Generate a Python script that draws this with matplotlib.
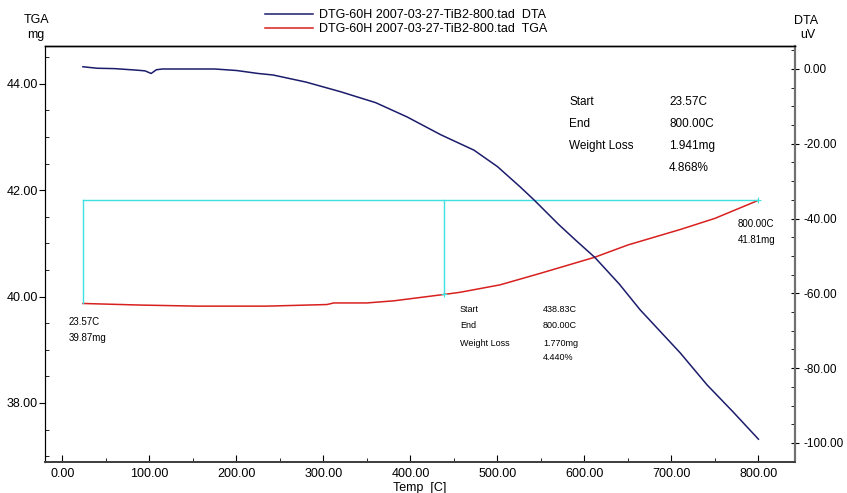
import matplotlib.pyplot as plt
from matplotlib.ticker import MultipleLocator, FormatStrFormatter

plt.rcParams['font.family'] = ['Liberation Sans', 'DejaVu Sans']

# DTA trace (uV) read against temperature (C)
dta_temp = [23.6, 40, 60, 85, 95, 102, 108, 115, 175, 200, 225, 242, 280, 320,
            360, 396, 435, 473, 500, 526, 542, 570, 590, 612, 640, 664, 710, 741, 770, 800]
dta_uv = [0.6, 0.2, 0.1, -0.3, -0.5, -1.2, -0.2, 0.0, 0.0, -0.4, -1.2, -1.6, -3.5, -6.1,
          -9.0, -12.8, -17.6, -21.7, -26.1, -31.5, -35.0, -41.5, -45.8, -50.4, -57.5, -64.4,
          -75.9, -84.5, -91.5, -99.0]

# TGA trace (mg)
tga_temp = [23.6, 90, 155, 235, 304, 312, 350, 381, 438.83, 457, 503, 550, 612, 650, 710, 750, 800]
tga_mg = [39.87, 39.84, 39.82, 39.82, 39.85, 39.88, 39.88, 39.92, 40.04, 40.08, 40.22, 40.44,
          40.74, 40.97, 41.26, 41.47, 41.81]

# weight-loss step markers
step1_start, step1_end = 23.57, 800.00
step1_lo, step1_hi = 39.87, 41.81
step2_start = 438.83
step2_lo = 40.04

xticks = [0, 100, 200, 300, 400, 500, 600, 700, 800]

fig = plt.figure(figsize=(8.47, 4.93), dpi=100)
ax = fig.add_axes([45 / 847, 1 - 462 / 493, 750 / 847, 416 / 493])
ax2 = ax.twinx()

l_dta, = ax2.plot(dta_temp, dta_uv, color='#1c1c6c', lw=1.1,
                  label='DTG-60H 2007-03-27-TiB2-800.tad  DTA')
l_tga, = ax.plot(tga_temp, tga_mg, color='#d8201e', lw=1.1,
                 label='DTG-60H 2007-03-27-TiB2-800.tad  TGA')

cyan = '#3fe0e0'
ax.plot([step1_start, step1_end], [step1_hi, step1_hi], color=cyan, lw=1)
ax.plot([step1_start, step1_start], [step1_lo, step1_hi], color=cyan, lw=1)
ax.plot([step2_start, step2_start], [step2_lo, step1_hi], color=cyan, lw=1)
ax.plot([step1_end, step2_start], [step1_hi, step2_lo], ls='none', marker='+',
        color=cyan, ms=5, mew=0.8)

ax.set_xlim(-20, 842)
ax.set_ylim(36.89, 44.71)
ax2.set_ylim(-105.1, 6.15)
ax.set_xticks(xticks)
ax.xaxis.set_minor_locator(MultipleLocator(50))
ax.xaxis.set_major_formatter(FormatStrFormatter('%.2f'))
ax.yaxis.set_major_locator(MultipleLocator(2))
ax.yaxis.set_minor_locator(MultipleLocator(0.5))
ax.yaxis.set_major_formatter(FormatStrFormatter('%.2f'))
ax2.yaxis.set_major_locator(MultipleLocator(20))
ax2.yaxis.set_minor_locator(MultipleLocator(5))
ax2.yaxis.set_major_formatter(FormatStrFormatter('%.2f'))

ax.tick_params(axis='x', which='major', direction='in', length=5, labelsize=9, pad=4)
ax.tick_params(axis='x', which='minor', direction='in', length=3)
ax.tick_params(axis='y', which='major', direction='out', length=4, labelsize=9, pad=1)
ax.tick_params(axis='y', which='minor', direction='in', length=3)
ax2.tick_params(axis='y', which='major', direction='inout', length=6, labelsize=8.5, pad=3)
ax2.tick_params(axis='y', which='minor', direction='in', length=3)

for a in (ax, ax2):
    a.spines['right'].set_color('#707070')
    a.spines['right'].set_linewidth(1.5)
    a.spines['bottom'].set_color('#404040')
    a.spines['bottom'].set_linewidth(1.3)
    a.spines['top'].set_linewidth(1.0)

ax.set_xlabel('Temp  [C]', fontsize=9, labelpad=2)

# axis captions
fig.text(37 / 847, 1 - 20 / 493, 'TGA', ha='center', va='center', fontsize=9)
fig.text(36 / 847, 1 - 35 / 493, 'mg', ha='center', va='center', fontsize=9)
fig.text(806 / 847, 1 - 21 / 493, 'DTA', ha='center', va='center', fontsize=9)
fig.text(808 / 847, 1 - 35 / 493, 'uV', ha='center', va='center', fontsize=9)

fig.legend(handles=[l_dta, l_tga], loc='upper left', bbox_to_anchor=(265 / 847, 1 - 9 / 493),
           frameon=False, fontsize=9, handlelength=3.8, handletextpad=0.5,
           labelspacing=0.2, borderpad=0, borderaxespad=0)

# result block for the whole run
rows1 = [('Start', '23.57C', 102), ('End', '800.00C', 124), ('Weight Loss', '1.941mg', 146), ('', '4.868%', 168)]
for name, val, y in rows1:
    fig.text(569 / 847, 1 - y / 493, name, va='center', fontsize=8.5)
    fig.text(669 / 847, 1 - y / 493, val, va='center', fontsize=8.5)

# result block for the second step
rows2 = [('Start', '438.83C', 309), ('End', '800.00C', 326), ('Weight Loss', '1.770mg', 344), ('', '4.440%', 358)]
for name, val, y in rows2:
    fig.text(460 / 847, 1 - y / 493, name, va='center', fontsize=6.5)
    fig.text(543 / 847, 1 - y / 493, val, va='center', fontsize=6.5)

fig.text(69 / 847, 1 - 322 / 493, '23.57C', va='center', fontsize=7)
fig.text(69 / 847, 1 - 338 / 493, '39.87mg', va='center', fontsize=7)
fig.text(738 / 847, 1 - 224 / 493, '800.00C', va='center', fontsize=7)
fig.text(738 / 847, 1 - 240 / 493, '41.81mg', va='center', fontsize=7)

fig.savefig('out.png', dpi=100)
